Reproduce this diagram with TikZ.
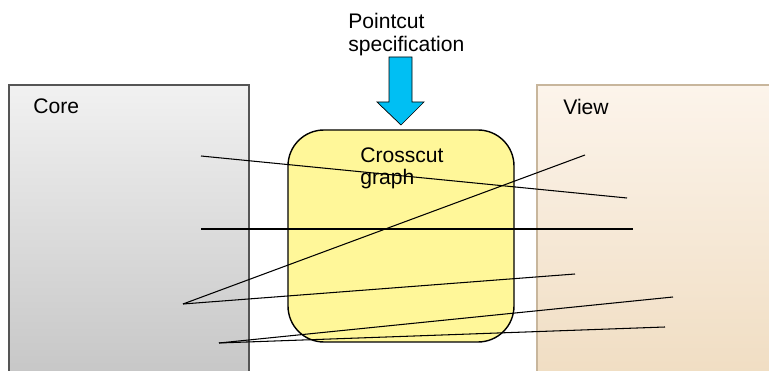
\documentclass[tikz,border=0pt]{standalone}
\usepackage{fontspec}
\setmainfont{Liberation Sans}
\definecolor{coretop}{HTML}{F1F1F1}
\definecolor{corebot}{HTML}{C6C6C6}
\definecolor{coreedge}{HTML}{555555}
\definecolor{viewtop}{HTML}{FCF4EB}
\definecolor{viewbot}{HTML}{F0DDC2}
\definecolor{viewedge}{HTML}{C8B69C}
\definecolor{graphfill}{HTML}{FFF799}
\definecolor{pcblue}{HTML}{00BFF3}
\tikzset{
  caption/.style={inner sep=0pt,anchor=north west,align=left,font=\fontsize{12}{13}\selectfont},
  layer/.style={line width=0.8pt},
  link/.style={line width=0.6pt}
}

\begin{document}
\begin{tikzpicture}[x=0.02cm,y=-0.02cm]
    \useasboundingbox (0,0) rectangle (769,371);
    \clip (0,0) rectangle (769,371);

    % the two layers and the graph between them
    \draw[layer,draw=coreedge,top color=coretop,bottom color=corebot] (9,85) rectangle (249,380);
    \draw[layer,draw=viewedge,top color=viewtop,bottom color=viewbot] (537,85) rectangle (780,380);
    \draw[layer,fill=graphfill,rounded corners=0.72cm] (288,130) rectangle (514,342);

    % pointcut arrow
    \draw[thin,fill=pcblue] (389,57) -- (412,57) -- (412,102) -- (424,102) -- (401,125)
      -- (377,102) -- (389,102) -- cycle;

    \node[caption] (core) at (33,98) {Core};
    \node[caption] (view) at (563,99) {View};
    \node[caption] (graph) at (360,147) {Crosscut\\graph};
    \node[caption] (pointcut) at (348,13) {Pointcut\\specification};

    % join points
    \coordinate (c1) at (201,156);
    \coordinate (c2) at (201,229);
    \coordinate (c3) at (183,304);
    \coordinate (c4) at (219,343);
    \coordinate (v1) at (627,198);
    \coordinate (v2) at (633,229);
    \coordinate (v3) at (585,155);
    \coordinate (v4) at (575,274);
    \coordinate (v5) at (673,297);
    \coordinate (v6) at (665,327);

    \foreach \a/\b in {c1/v1,c2/v2,c3/v3,c3/v4,c4/v5,c4/v6}
      \draw[link] (\a) -- (\b);
\end{tikzpicture}
\end{document}
